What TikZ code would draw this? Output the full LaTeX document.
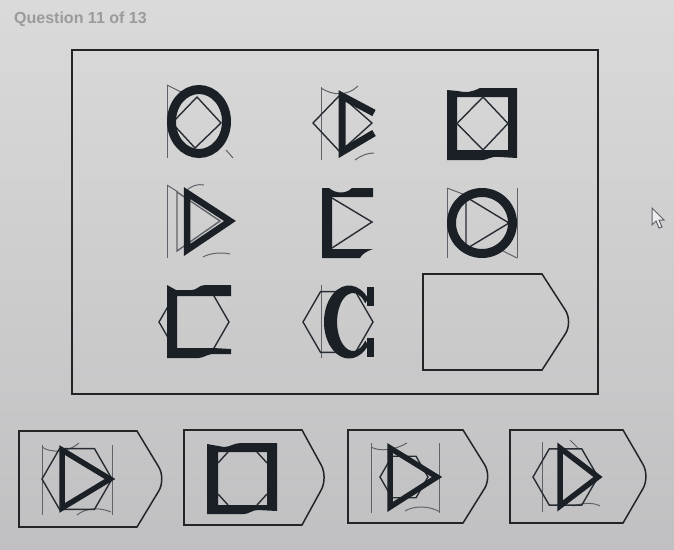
\documentclass[tikz,border=0pt]{standalone}
\usepackage{fontspec}
\setmainfont{Liberation Sans}
\definecolor{ink}{RGB}{26,32,38}
\definecolor{thinink}{RGB}{40,45,52}
\definecolor{ghost}{RGB}{95,98,104}
\definecolor{boxgray}{RGB}{34,36,40}
\definecolor{bgtop}{RGB}{218,218,218}
\definecolor{bgbot}{RGB}{192,192,194}
\definecolor{titlegray}{RGB}{155,155,157}

% hexagon: centre x, centre y, radius
\newcommand{\hexa}[3]{\draw[thinpart] (#1,#2) +(0:#3) -- +(60:#3) -- +(120:#3) -- +(180:#3) -- +(240:#3) -- +(300:#3) -- cycle;}
% answer tag: left, top, flat end, tip, bottom
\newcommand{\tagframe}[5]{%
  \draw[boxline] (#3,#2) -- (#1,#2) -- (#1,#5) -- (#3,#5);
  \draw[boxline, rounded corners=14pt] (#3,#2) -- (#4,{(#2+#5)/2}) -- (#3,#5);}

\begin{document}
\begin{tikzpicture}[x=1pt, y=-1pt,
  thickpart/.style={draw=ink, line join=miter},
  thinpart/.style={draw=thinink, line width=1.4pt},
  ghostline/.style={draw=ghost, line width=1pt},
  boxline/.style={draw=boxgray, line width=1.5pt, line cap=round}]
\useasboundingbox (0,0) rectangle (674,549);
\shade[top color=bgtop, bottom color=bgbot] (0,0) rectangle (674,549);
\node[anchor=base west, text=titlegray, font=\fontsize{16}{18}\selectfont\bfseries, inner sep=0pt] (title) at (14,23) {Question 11 of 13};

% matrix frame
\draw[boxline] (72,50) rectangle (598,394);

% row 1
\draw[ghostline] (167,85) -- (167,158);
\draw[ghostline] (167,85) -- (181,92);
\draw[ghostline] (226,150) -- (233,158);
\draw[thinpart] (197,97) -- (221,123) -- (195,148) -- (172,123) -- cycle;
\draw[thickpart, line width=9pt] (199,121.5) ellipse [x radius=27.5pt, y radius=32pt];

\draw[ghostline] (321,87) -- (321,160);
\draw[ghostline] (321,88) .. controls (333,96) and (348,96) .. (358,86);
\draw[ghostline] (355,160) .. controls (362,155) and (368,153) .. (374,153);
\draw[thinpart] (313,123) -- (340,95) -- (372,123) -- (340,152) -- cycle;
\draw[thickpart, line width=7pt] (374,113) -- (342,96) -- (342,152) -- (374,133);

\fill[ink, even odd rule] (447,90) -- (458,91) .. controls (466,93) and (472,92) .. (480,88) -- (517,88) -- (517,158) -- (500,157) .. controls (490,156) and (487,160) .. (483,160) -- (447,160) -- cycle (457,97) rectangle (508,150);
\draw[thinpart] (483,97) -- (508,123.5) -- (483,150) -- (457,123.5) -- cycle;

% row 2
\draw[ghostline] (167,185) -- (167,258);
\draw[ghostline] (167,185) -- (178,192);
\draw[ghostline] (187,190) .. controls (193,185) and (198,184) .. (204,185);
\draw[ghostline] (203,257) .. controls (210,253) and (222,252) .. (230,254);
\draw[thinpart, draw=ghost] (177,192) -- (220,221) -- (177,251) -- cycle;
\draw[thickpart, line width=6.5pt] (187,193) -- (230,221) -- (187,250) -- cycle;

\fill[ink] (322,188) -- (329,188) .. controls (336,194) and (346,194) .. (352,188) -- (373,188) -- (373,197) -- (332,197) -- (332,249) -- (373,249) .. controls (367,251) and (362,254) .. (360,258) -- (322,258) -- cycle;
\draw[thinpart] (332,198) -- (372,222) -- (332,248);

\draw[ghostline] (447,188) -- (447,258);
\draw[ghostline] (517,188) -- (517,258);
\draw[ghostline] (447,188) -- (468,196);
\draw[ghostline] (497,248) -- (517,258);
\draw[thinpart] (466,197) -- (509,223) -- (466,249) -- cycle;
\draw[thickpart, line width=9pt] (482,223) ellipse [x radius=30.5pt, y radius=30.5pt];

% row 3
\hexa{194}{322}{35}
\fill[ink] (167,285) -- (176,290) -- (192,290) .. controls (197,290) and (199,285) .. (205,285) -- (231,285) -- (231,296) -- (177,296) -- (177,348) -- (213,348) -- (231,349) -- (231,354) -- (212,354) .. controls (206,355) and (203,358) .. (198,358) -- (167,358) -- cycle;

\draw[ghostline] (321,285) -- (321,358);
\hexa{338}{322}{35}
\fill[ink] (349,322) ++(40:25pt and 36.5pt) arc [start angle=40, end angle=320, x radius=25pt, y radius=36.5pt]
  -- (365.3,340.6) arc [start angle=320, end angle=40, x radius=16pt, y radius=29pt] -- cycle;
\draw[thickpart, line width=7pt] (370.5,287) -- (370.5,306) (370.5,338) -- (370.5,357);

% empty answer slot
\tagframe{423}{274}{542}{573}{370}

% options
\tagframe{19}{431}{137}{166}{527}
\draw[ghostline] (42,445) -- (42,515);
\draw[ghostline] (112,445) -- (112,515);
\draw[ghostline] (42,447) .. controls (50,453) and (68,453) .. (79,443);
\draw[ghostline] (77,515) .. controls (85,508) and (100,507) .. (111,512);
\hexa{77}{479}{35}
\draw[thickpart, line width=5.5pt] (62,450) -- (110,479) -- (62,508) -- cycle;

\tagframe{184}{430}{302}{328}{525}
\fill[ink, even odd rule] (207,444) -- (224,447) .. controls (230,447) and (234,443) .. (241,443) -- (277,443) -- (277,511) -- (258,510) .. controls (252,510) and (249,514) .. (244,514) -- (207,514) -- cycle (218,452) rectangle (267,505);
\draw[thinpart] (218,463) -- (228,452) (257,452) -- (267,463) (267,494) -- (257,505) (228,505) -- (218,494);

\tagframe{348}{430}{463}{492}{523}
\draw[ghostline] (371,443) -- (371,513);
\draw[ghostline] (439,443) -- (439,513);
\draw[ghostline] (371,447) .. controls (380,452) and (395,450) .. (407,443);
\draw[ghostline] (405,511) .. controls (415,505) and (430,506) .. (440,512);
\hexa{404}{477}{24}
\draw[thickpart, line width=5.5pt] (390,448) -- (437,477) -- (390,507) -- cycle;

\tagframe{510}{430}{623}{650}{523}
\draw[ghostline] (542,442) -- (542,512);
\draw[ghostline] (570,440) -- (578,448);
\draw[ghostline] (573,506) .. controls (585,502) and (595,503) .. (600,506);
\hexa{565.5}{477}{32.5}
\draw[thickpart, line width=5.5pt] (560,448) -- (598,477) -- (560,506) -- cycle;

% mouse pointer
\draw[ghostline, fill=white!85!gray] (652,208) -- (652,225) -- (656,221) -- (659,228) -- (662,227) -- (659,220) -- (664,220) -- cycle;
\end{tikzpicture}
\end{document}
